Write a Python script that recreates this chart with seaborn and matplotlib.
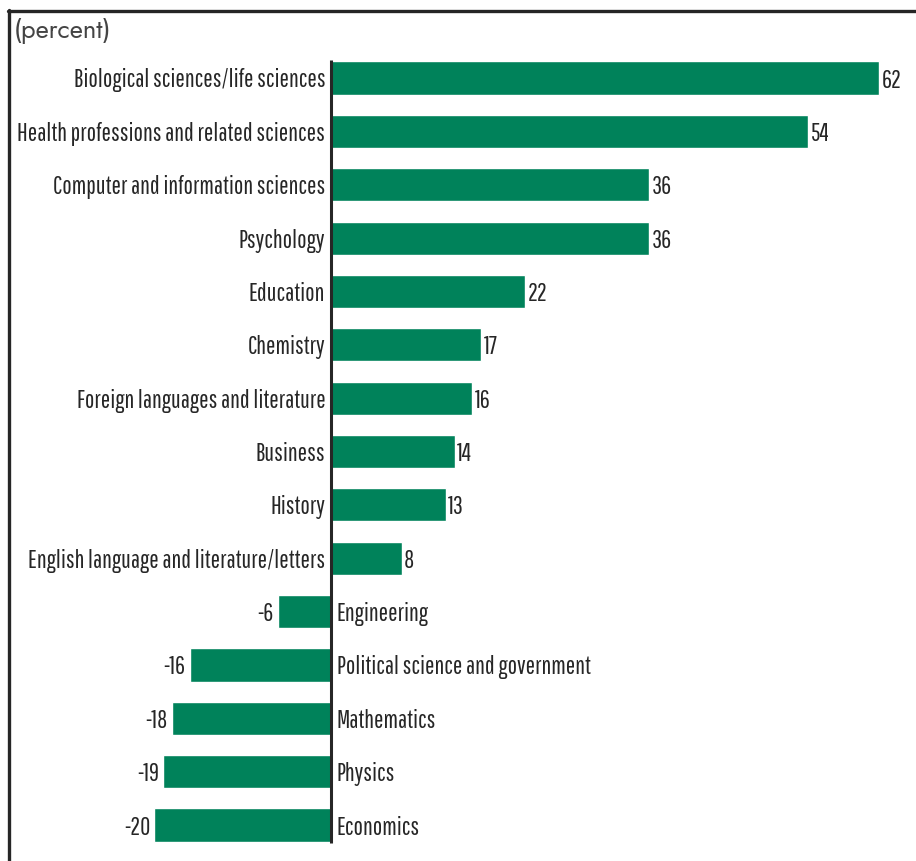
import matplotlib
matplotlib.use("Agg")
import matplotlib.pyplot as plt
import seaborn as sns
import pandas as pd
from matplotlib.lines import Line2D

categories = [
    "Biological sciences/life sciences",
    "Health professions and related sciences",
    "Computer and information sciences",
    "Psychology",
    "Education",
    "Chemistry",
    "Foreign languages and literature",
    "Business",
    "History",
    "English language and literature/letters",
    "Engineering",
    "Political science and government",
    "Mathematics",
    "Physics",
    "Economics",
]
values = [62, 54, 36, 36, 22, 17, 16, 14, 13, 8, -6, -16, -18, -19, -20]
unit_label = "(percent)"

BAR = "#00825a"
INK = "#262626"
FONT = ["Pathway Gothic One", "Sofia Sans Extra Condensed", "DejaVu Sans"]

sns.set_theme(style="white")
plt.rcParams["font.family"] = FONT

W, H = 916, 861
fig = plt.figure(figsize=(W / 100, H / 100), dpi=100)
ax = fig.add_axes([0, 0, 1, 1])

df = pd.DataFrame({"category": categories, "value": values})
sns.barplot(data=df, x="value", y="category", orient="h", color=BAR,
            saturation=1, width=0.62, ax=ax)

# pixel geometry: zero at x=331, 8.84 px per percent; rows 53.36 px apart
px_per = 8.84
x0 = 331
ax.set_xlim(-x0 / px_per, (W - x0) / px_per)
row = 53.36
y_first = 78
ax.set_ylim((H - y_first) / row, -y_first / row)
ax.axis("off")

n = len(categories)
ax.plot([0, 0], [-0.33, n - 1 + 0.33], color=INK, lw=2.2, solid_capstyle="butt")

fs = 17.8
for i, (cat, v) in enumerate(zip(categories, values)):
    if v >= 0:
        ax.text(-0.65, i, cat, ha="right", va="center_baseline", fontsize=fs, color=INK)
        ax.text(v + 0.25, i, f"{v}", ha="left", va="center_baseline", fontsize=fs, color=INK)
    else:
        ax.text(0.65, i, cat, ha="left", va="center_baseline", fontsize=fs, color=INK)
        ax.text(v - 0.45, i, f"{v}", ha="right", va="center_baseline", fontsize=fs, color=INK)

fig.text(14 / W, 1 - 31 / H, unit_label, ha="left", va="center", fontsize=18.5,
         color="#444444", family=["Jost", "DejaVu Sans"], fontweight="light")

# frame around the panel
fig.add_artist(Line2D([9 / W, 9 / W], [0, 1 - 10 / H], transform=fig.transFigure,
                      color=INK, lw=2.4))
fig.add_artist(Line2D([8 / W, 1], [1 - 11 / H, 1 - 11 / H], transform=fig.transFigure,
                      color=INK, lw=2.4))

fig.savefig("out.png", dpi=100)
